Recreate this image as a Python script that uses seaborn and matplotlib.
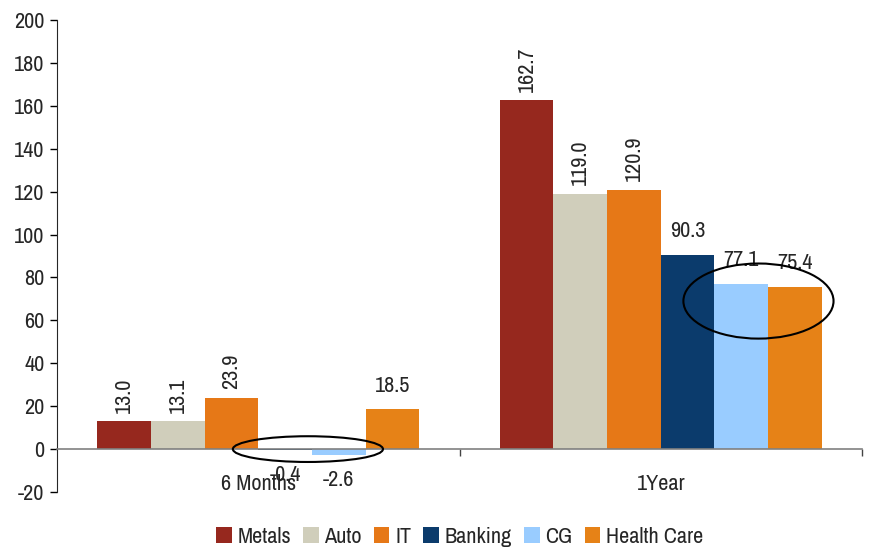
import pandas as pd
import matplotlib.pyplot as plt
import seaborn as sns
from matplotlib import font_manager
from matplotlib.patches import Ellipse

periods = ["6 Months", "1Year"]
sectors = ["Metals", "Auto", "IT", "Banking", "CG", "Health Care"]
six_months = [13.0, 13.1, 23.9, -0.4, -2.6, 18.5]
one_year = [162.7, 119.0, 120.9, 90.3, 77.1, 75.4]
colors = ["#96281E", "#D0CEBB", "#E67817", "#0B3B6C", "#99CCFF", "#E68217"]
rotated = ["Metals", "Auto", "IT"]

rows = []
for s, a, b in zip(sectors, six_months, one_year):
    rows.append({"period": periods[0], "sector": s, "value": a})
    rows.append({"period": periods[1], "sector": s, "value": b})
df = pd.DataFrame(rows)

sns.set_style("ticks")
# narrow fonts if present
names = sorted({f.name for f in font_manager.fontManager.ttflist})
narrow = [n for n in names if "Narrow" in n or "Condensed" in n]
plt.rcParams["font.family"] = narrow[:1] + ["DejaVu Sans"]
plt.rcParams["axes.unicode_minus"] = False
FS = 16

fig = plt.figure(figsize=(8.69, 5.49), dpi=100)
ax = fig.add_axes([0.0656, 0.1038, 0.9264, 0.8598])

sns.barplot(data=df, x="period", y="value", hue="sector", order=periods,
            hue_order=sectors, palette=colors, saturation=1, width=0.8,
            linewidth=0, ax=ax, legend=True)

# data labels
for cont, sec in zip(ax.containers, sectors):
    for bar in cont:
        v = bar.get_height()
        x = bar.get_x() + bar.get_width() / 2
        if v < 0:
            ax.annotate(f"{v:.1f}", (x, v), xytext=(0, -11), textcoords="offset points",
                        ha="center", va="top", fontsize=FS)
        elif sec in rotated:
            ax.annotate(f"{v:.1f}", (x, v), xytext=(0, 6), textcoords="offset points",
                        ha="center", va="bottom", rotation=90, fontsize=FS)
        else:
            ax.annotate(f"{v:.1f}", (x, v), xytext=(0, 10), textcoords="offset points",
                        ha="center", va="bottom", fontsize=FS)

ax.set_ylim(-20, 200)
ax.set_yticks(range(-20, 201, 20))
ax.set_xlim(-0.5, 1.5)
ax.set_xlabel("")
ax.set_ylabel("")
ax.tick_params(axis="y", labelsize=FS, length=5, width=1, color="black", pad=4)

# x axis sits at zero
ax.spines["top"].set_visible(False)
ax.spines["right"].set_visible(False)
ax.spines["left"].set_bounds(-20, 200)
ax.spines["bottom"].set_position(("data", 0))
ax.spines["bottom"].set_color("#808080")
ax.spines["bottom"].set_linewidth(1.2)
ax.set_xticks([0, 1])
ax.set_xticklabels(periods)
ax.set_xticks([0.5, 1.5], minor=True)
ax.tick_params(axis="x", which="major", length=0, labelsize=FS, pad=18)
ax.tick_params(axis="x", which="minor", length=5, width=1, color="#444444")

# highlight ellipses
c6 = ax.containers[4][0]
ax.add_patch(Ellipse((c6.get_x() - 0.01, 0), 0.373, 12, fill=False,
                     edgecolor="black", linewidth=1.5, zorder=5))
c1 = ax.containers[4][1]
ax.add_patch(Ellipse((c1.get_x() + c1.get_width() - 0.024, 69), 0.373, 35, fill=False,
                     edgecolor="black", linewidth=1.5, zorder=5))

leg = ax.legend(loc="center", bbox_to_anchor=(0.5, -0.095), ncol=6,
                frameon=False, fontsize=FS, handlelength=0.7, handleheight=0.7,
                handletextpad=0.25, columnspacing=0.55, borderaxespad=0)

fig.savefig("out.png", dpi=100)
